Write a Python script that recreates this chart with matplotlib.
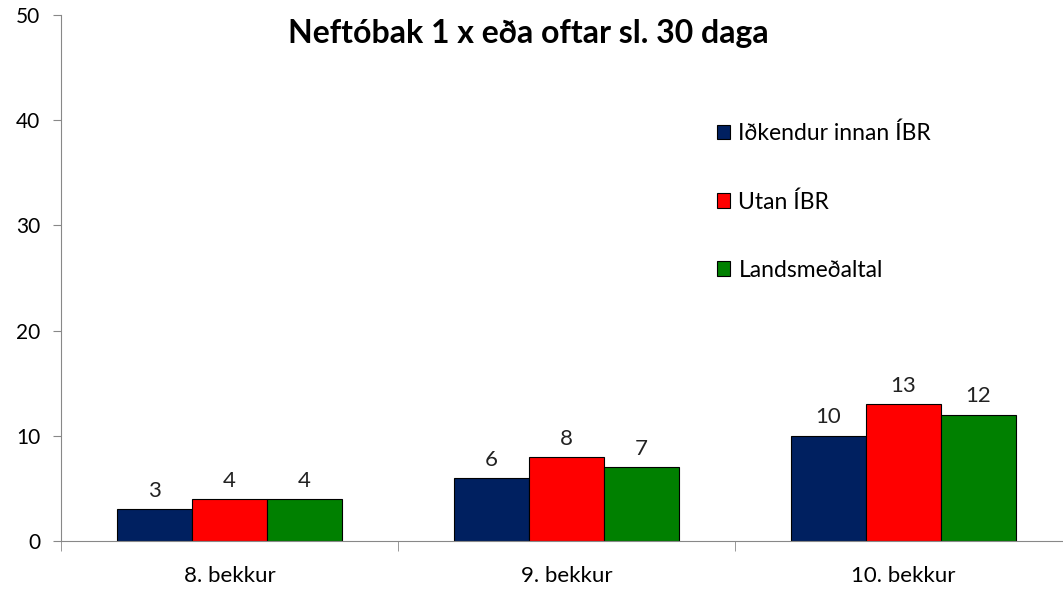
import matplotlib
matplotlib.use("Agg")
import matplotlib.pyplot as plt
import numpy as np

categories = ["8. bekkur", "9. bekkur", "10. bekkur"]
series_names = ["Iðkendur innan ÍBR", "Utan ÍBR", "Landsmeðaltal"]
innan = [3, 6, 10]
utan = [4, 8, 13]
lands = [4, 7, 12]
colors = ["#002060", "#FF0000", "#008000"]
title = "Neftóbak 1 x eða oftar sl. 30 daga"

plt.rcParams['font.family'] = ['Lato', 'DejaVu Sans']

fig = plt.figure(figsize=(10.63, 5.90), dpi=100)
ax = fig.add_axes([61/1063, 49/590, 1011/1063, 526/590])

x = np.arange(len(categories))
w = 0.2225
for i, (vals, name, c) in enumerate(zip([innan, utan, lands], series_names, colors)):
    bars = ax.bar(x + (i - 1) * w, vals, w, color=c, edgecolor="black", linewidth=0.8, label=name)
    for b, v in zip(bars, vals):
        ax.annotate(str(v), (b.get_x() + b.get_width() / 2, v), xytext=(0, 6),
                    textcoords="offset points", ha="center", va="bottom", fontsize=16, color="#222222")

ax.set_xlim(-0.5, 2.5)
ax.set_ylim(0, 50)
ax.set_yticks(range(0, 51, 10))
ax.set_xticks(x)
ax.set_xticklabels(categories, fontsize=16)
ax.set_xticks([-0.5, 0.5, 1.5, 2.5], minor=True)
ax.tick_params(axis="x", which="major", length=0, pad=18)
ax.tick_params(axis="x", which="minor", length=7, color="#888888", direction="out")
ax.tick_params(axis="y", length=6, color="#888888", labelsize=15, pad=9)
for s in ["top", "right"]:
    ax.spines[s].set_visible(False)
ax.spines["left"].set_color("#888888")
ax.spines["bottom"].set_color("#888888")

fig.text(528/1063, 1 - 33/590, title, ha="center", va="center", fontsize=23, fontweight="bold")

leg = ax.legend(loc="upper left", bbox_to_anchor=(696/1063, 1 - 102/590), bbox_transform=fig.transFigure,
                frameon=False, fontsize=16.5, labelspacing=2.05, handlelength=0.6, handleheight=0.6,
                handletextpad=0.35)

fig.savefig("out.png", dpi=100)
